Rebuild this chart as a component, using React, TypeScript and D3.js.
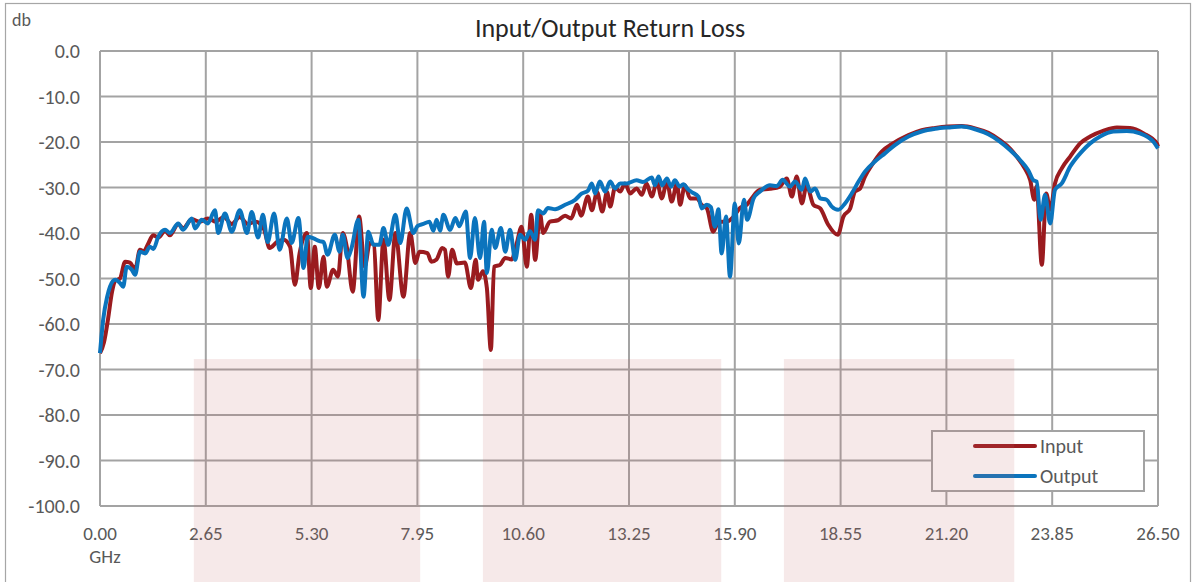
import React from 'react';
import * as d3 from 'd3';

// frequency (GHz) / return loss (dB)
const inputFreq = [
  0, 0.1, 0.2, 0.3, 0.38, 0.5, 0.63, 0.75, 0.88, 1.0, 1.1, 1.2, 1.33, 1.46, 1.63, 1.75, 1.96, 2.08, 2.3, 2.5,
  2.7, 2.9, 3.1, 3.3, 3.5, 3.7, 3.9, 4.1, 4.25, 4.43, 4.6, 4.76, 4.88, 5.0, 5.18, 5.28, 5.38, 5.48, 5.6, 5.68,
  5.84, 5.96, 6.08, 6.18, 6.33, 6.49, 6.63, 6.76, 6.86, 6.97, 7.1, 7.25, 7.4, 7.6, 7.77, 7.9, 8.0, 8.2, 8.3, 8.43,
  8.57, 8.64, 8.72, 8.82, 8.94, 9.14, 9.29, 9.41, 9.47, 9.59, 9.69, 9.79, 9.87, 10.02, 10.15, 10.31, 10.44, 10.56, 10.69, 10.8,
  10.9, 11.02, 11.1, 11.27, 11.47, 11.65, 11.8, 11.95, 12.05, 12.22, 12.32, 12.45, 12.58, 12.7, 12.78, 12.9, 13.03, 13.15, 13.28, 13.44,
  13.57, 13.69, 13.82, 13.95, 14.07, 14.2, 14.32, 14.45, 14.53, 14.65, 14.78, 14.95, 15.07, 15.2, 15.36, 15.45, 15.57, 15.7, 15.86, 16.03,
  16.2, 16.32, 16.53, 16.78, 17.03, 17.2, 17.33, 17.45, 17.58, 17.7, 17.87, 18.04, 18.24, 18.48, 18.62, 18.79, 18.91, 19.04, 19.16, 19.33,
  19.58, 19.83, 20.25, 20.58, 20.92, 21.25, 21.58, 21.92, 22.25, 22.54, 22.8, 22.96, 23.17, 23.3, 23.4, 23.46, 23.59, 23.7, 23.8, 23.92,
  24.09, 24.3, 24.55, 24.8, 25.14, 25.47, 25.8, 26.14, 26.47, 26.5,
];
const inputDb = [
  -66.4, -64, -59, -53, -50.5, -50, -46.3, -46.5, -48, -43.7, -44, -42.5, -40.5, -41, -39.5, -40.5, -38, -39, -37, -37.5,
  -36.8, -37.5, -36.5, -38, -36.5, -38, -37.5, -39, -43.3, -42, -41.5, -43, -51.4, -44.4, -40, -52.1, -43, -52.1, -45.2, -51.8,
  -48.1, -49.6, -40, -43, -52.9, -36.4, -47.4, -42.2, -42.6, -59.1, -41.5, -54.7, -40, -54, -40, -46.6, -44.1, -44.4, -46.3, -45.8,
  -43.3, -43.7, -49.6, -43.7, -46.7, -46.5, -52.1, -45.9, -50.3, -48.4, -52.1, -65.7, -47.4, -47, -45.5, -45.8, -42.2, -38.6, -47.4, -36,
  -45.9, -35.7, -40, -37.5, -37.2, -36.2, -36.8, -33.8, -36.2, -32, -35, -31, -35.3, -31, -34.2, -30, -30.9, -29.1, -31.3, -30.2,
  -31.6, -29.1, -32, -28.7, -32.4, -28.7, -33.1, -29.1, -33.8, -29.5, -32.4, -32.4, -33.8, -34.6, -39.7, -38.2, -37.5, -37.5, -36.5, -34.5,
  -33.8, -32.4, -30.5, -30.3, -29.8, -28, -32, -27.6, -33.5, -29.5, -33.8, -34.6, -38.2, -40.4, -36.4, -34.6, -30.9, -30.2, -27.6, -25.1,
  -22.1, -20.5, -18.5, -17.4, -16.9, -16.6, -16.5, -17, -18, -19.6, -21.5, -23.2, -25.9, -28.4, -32.7, -29.8, -47, -31.3, -34.9, -29.1,
  -25.8, -23.2, -20.3, -18.8, -17.5, -16.8, -16.9, -18.1, -20.3, -21,
];

const outputFreq = [
  0, 0.08, 0.18, 0.25, 0.38, 0.5, 0.58, 0.67, 0.79, 0.88, 1.0, 1.13, 1.25, 1.34, 1.46, 1.63, 1.75, 1.96, 2.08, 2.3,
  2.38, 2.55, 2.7, 2.88, 2.96, 3.13, 3.3, 3.5, 3.68, 3.8, 3.96, 4.08, 4.2, 4.36, 4.5, 4.68, 4.8, 4.97, 5.1, 5.2,
  5.35, 5.5, 5.6, 5.7, 5.88, 6.0, 6.08, 6.2, 6.3, 6.47, 6.6, 6.72, 6.85, 7.0, 7.1, 7.22, 7.4, 7.52, 7.68, 7.85,
  7.95, 8.1, 8.25, 8.35, 8.43, 8.52, 8.6, 8.77, 8.9, 9.0, 9.16, 9.27, 9.39, 9.52, 9.62, 9.69, 9.81, 9.9, 10.04, 10.15,
  10.27, 10.4, 10.52, 10.65, 10.77, 10.9, 10.97, 11.1, 11.22, 11.4, 11.65, 11.9, 12.07, 12.22, 12.32, 12.4, 12.52, 12.65, 12.78, 12.9,
  13.03, 13.2, 13.44, 13.6, 13.82, 13.9, 13.99, 14.08, 14.2, 14.3, 14.4, 14.52, 14.61, 14.74, 14.82, 14.99, 15.07, 15.2, 15.3, 15.4,
  15.49, 15.57, 15.68, 15.78, 15.9, 16.0, 16.13, 16.21, 16.37, 16.53, 16.78, 16.95, 17.1, 17.28, 17.41, 17.58, 17.66, 17.79, 17.91, 18.04,
  18.2, 18.33, 18.49, 18.66, 18.83, 19.0, 19.16, 19.41, 19.66, 19.91, 20.25, 20.58, 20.92, 21.25, 21.58, 21.92, 22.25, 22.54, 22.8, 23.05,
  23.25, 23.38, 23.46, 23.56, 23.67, 23.8, 23.92, 24.09, 24.3, 24.55, 24.8, 25.05, 25.38, 25.72, 26.05, 26.38, 26.5,
];
const outputDb = [
  -66.4, -59, -54, -51.8, -50.3, -51, -51.8, -47.4, -48, -49.2, -44.1, -44.5, -43, -43.5, -40.8, -39.3, -40, -37.9, -39.3, -36.8,
  -39, -37.1, -37.9, -35, -40, -35.7, -39.7, -35, -40, -35.4, -41, -36, -42, -35.7, -43.7, -36.8, -42.2, -36.7, -47.7, -40.8,
  -41.2, -41.8, -42, -44.8, -40.4, -44.1, -40.4, -45.5, -43.3, -37.1, -54, -39.7, -42.6, -42.6, -38.9, -42.6, -36, -42.2, -34.6, -40,
  -38.5, -38, -37.5, -39.5, -37.1, -39.5, -36, -39.3, -36.7, -38.5, -35.3, -45.5, -36.7, -45.5, -37.5, -48.8, -39.3, -43.3, -38.9, -44.1,
  -39.3, -45.9, -40.4, -41.5, -39.6, -41.5, -35, -35.7, -34.5, -34.8, -33.8, -32.7, -31.3, -30.7, -29.1, -31.3, -28.7, -30.9, -28.7, -30.2,
  -29.1, -29.1, -28.4, -28.8, -27.8, -29.5, -27.6, -29.5, -28, -29.8, -28.4, -29.8, -29.3, -30.5, -31, -32, -34.6, -33.8, -34.3, -38.6,
  -34.8, -44.5, -36.4, -49.6, -33.5, -42.3, -32.7, -37.1, -32.4, -30.9, -29.5, -29.7, -28.3, -29.8, -28.7, -30.5, -28, -30.9, -30.2, -32.4,
  -32.7, -34.2, -34.9, -33.5, -31.3, -28.7, -26.5, -24.3, -22.5, -20.7, -18.8, -17.7, -17.1, -16.8, -16.6, -17.2, -18.3, -19.9, -21.8, -24,
  -26.2, -28.4, -28.7, -37.1, -31.6, -37.9, -30.5, -29.1, -25.4, -22.5, -20.3, -18.8, -17.7, -17.6, -18.1, -19.9, -21.4,
];

const seriesNames = ['Input', 'Output'];
const seriesColors = ['#9a1b1f', '#0b74bd'];
const xTicks = [0, 2.65, 5.3, 7.95, 10.6, 13.25, 15.9, 18.55, 21.2, 23.85, 26.5];
const yTicks = [0, -10, -20, -30, -40, -50, -60, -70, -80, -90, -100];
// shaded frequency bands (GHz) and their top level (dB)
const bandStart = [2.35, 9.59, 17.13];
const bandEnd = [8.02, 15.56, 22.9];
const bandTopDb = -67.7;

const W = 1196;
const H = 582;
const margin = { left: 100, right: 38, top: 51, bottom: 76 };
const font = "Carlito, Lato, 'Open Sans', sans-serif";
const textColor = '#595959';
const gridColor = '#a3a3a3';

export default function App() {
  const x = d3.scaleLinear().domain([0, 26.5]).range([margin.left, W - margin.right]);
  const y = d3.scaleLinear().domain([-100, 0]).range([H - margin.bottom, margin.top]);

  const line = d3
    .line<[number, number]>()
    .x((d) => x(d[0]))
    .y((d) => y(d[1]))
    .curve(d3.curveMonotoneX);

  const inputPts = inputFreq.map((f, i) => [f, inputDb[i]] as [number, number]);
  const outputPts = outputFreq.map((f, i) => [f, outputDb[i]] as [number, number]);

  const legX = 932;
  const legY = 431;

  return (
    <svg width={W} height={H} style={{ position: 'absolute', left: 0, top: 0, background: '#fff' }} fontFamily={font}>
      <rect x={5.5} y={3.5} width={W - 11} height={H + 10} fill="#fff" stroke="#a6a6a6" strokeWidth={1.2} />

      {/* grid */}
      {yTicks.map((t) => (
        <line key={'gy' + t} x1={x(0)} x2={x(26.5)} y1={y(t)} y2={y(t)} stroke={gridColor} strokeWidth={2} />
      ))}
      {xTicks.map((t) => (
        <line key={'gx' + t} x1={x(t)} x2={x(t)} y1={y(0)} y2={y(-100)} stroke={gridColor} strokeWidth={2} />
      ))}

      {/* tick labels */}
      {yTicks.map((t) => (
        <text key={'ly' + t} x={80} y={y(t) + 7} textAnchor="end" fontSize={20} fill={textColor}>
          {t.toFixed(1)}
        </text>
      ))}
      {xTicks.map((t) => (
        <text key={'lx' + t} x={x(t)} y={540} textAnchor="middle" fontSize={19} fill={textColor}>
          {t.toFixed(2)}
        </text>
      ))}
      <text x={x(0) + 5} y={563} textAnchor="middle" fontSize={19} fill={textColor}>GHz</text>
      <text x={12} y={26} fontSize={18} fill={textColor}>db</text>

      <text x={610} y={37} textAnchor="middle" fontSize={26} fill="#262626">Input/Output Return Loss</text>

      {/* series */}
      <path d={line(inputPts) || ''} fill="none" stroke={seriesColors[0]} strokeWidth={4} strokeLinejoin="round" />
      <path d={line(outputPts) || ''} fill="none" stroke={seriesColors[1]} strokeWidth={4} strokeLinejoin="round" />

      {/* legend */}
      <rect x={legX} y={legY} width={212} height={60} fill="#fff" stroke={gridColor} strokeWidth={2} />
      {seriesNames.map((name, i) => (
        <g key={name}>
          <line x1={legX + 43} x2={legX + 103} y1={legY + 15 + i * 30} y2={legY + 15 + i * 30} stroke={seriesColors[i]} strokeWidth={4} strokeLinecap="round" />
          <text x={legX + 108} y={legY + 22 + i * 30} fontSize={20} fill={textColor}>{name}</text>
        </g>
      ))}

      {/* shaded bands */}
      {bandStart.map((b, i) => (
        <rect key={'band' + i} x={x(b)} y={y(bandTopDb)} width={x(bandEnd[i]) - x(b)} height={H - y(bandTopDb)} fill="#c06a6a" fillOpacity={0.15} />
      ))}
    </svg>
  );
}
